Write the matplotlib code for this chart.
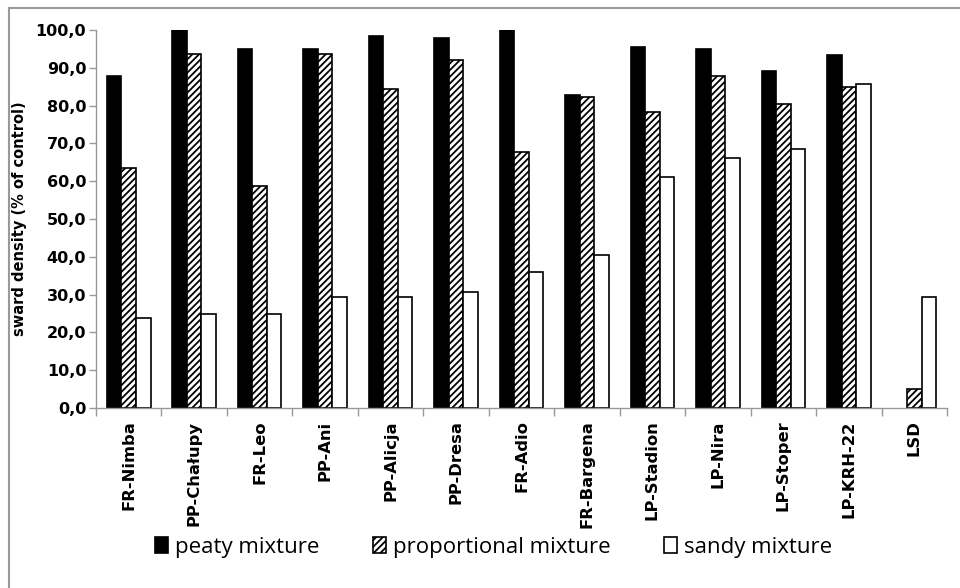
import matplotlib
matplotlib.use("Agg")
import matplotlib.pyplot as plt
import numpy as np
from matplotlib.lines import Line2D

categories = ["FR-Nimba", "PP-Chałupy", "FR-Leo", "PP-Ani", "PP-Alicja", "PP-Dresa",
              "FR-Adio", "FR-Bargena", "LP-Stadion", "LP-Nira", "LP-Stoper", "LP-KRH-22", "LSD"]
peaty = [87.9, 100.0, 95.1, 95.0, 98.4, 98.0, 100.0, 82.7, 95.6, 94.9, 89.1, 93.4, np.nan]
proportional = [63.4, 93.6, 58.8, 93.7, 84.3, 92.0, 67.7, 82.4, 78.2, 87.8, 80.3, 84.9, 5.1]
sandy = [23.8, 24.8, 25.0, 29.5, 29.4, 30.8, 35.9, 40.6, 61.0, 66.1, 68.5, 85.6, 29.5]
series_names = ["peaty mixture", "proportional mixture", "sandy mixture"]
y_ticks = [0, 10, 20, 30, 40, 50, 60, 70, 80, 90, 100]

plt.rcParams['font.family'] = ['DejaVu Sans']
plt.rcParams['hatch.linewidth'] = 1.3
fig = plt.figure(figsize=(9.6, 5.88), dpi=100)
ax = fig.add_axes([0.1, 0.306, 0.8865, 0.643])

x = np.arange(len(categories))
w = 0.222
edge = dict(edgecolor="black", linewidth=1.2)
ax.bar(x - w, peaty, w, color="black", label=series_names[0], **edge)
ax.bar(x, proportional, w, color="white", hatch="/////", label=series_names[1], **edge)
ax.bar(x + w, sandy, w, color="white", label=series_names[2], **edge)

ax.set_xlim(-0.5, len(categories) - 0.5)
ax.set_ylim(0, 100)
ax.set_yticks(y_ticks)
ax.set_yticklabels([f"{v:.1f}".replace(".", ",") for v in y_ticks],
                   fontsize=11.5, fontweight="bold", family="DejaVu Sans")
ax.set_xticks(np.arange(len(categories) + 1) - 0.5)
ax.set_xticklabels([])
ax.set_xticks(x, minor=True)
ax.set_xticklabels(categories, minor=True, rotation=90, fontsize=11.8, fontweight="bold",
                   family="DejaVu Sans")
ax.tick_params(axis="x", which="minor", length=0, pad=9)
ax.tick_params(axis="x", which="major", length=6, color="#999999", width=1)
ax.tick_params(axis="y", length=5, color="#999999", width=1, pad=2)
for s in ["top", "right"]:
    ax.spines[s].set_visible(False)
for s in ["left", "bottom"]:
    ax.spines[s].set_color("#999999")
    ax.spines[s].set_linewidth(1)
ax.set_ylabel("sward density (% of control)", fontsize=10.5, fontweight="bold",
              family="DejaVu Sans")
ax.yaxis.set_label_coords(-69/851, 0.5)

leg = fig.legend(loc="center", bbox_to_anchor=(0.514, 1 - 547/588), ncol=3, frameon=False,
                 prop={"family": "Open Sans", "size": 16}, handlelength=0.6,
                 handleheight=0.75, handletextpad=0.3, columnspacing=2.4, borderpad=0)

fig.add_artist(Line2D([9/960, 9/960], [0, 1 - 8/588], color="#999999", linewidth=1.5,
                      transform=fig.transFigure))
fig.add_artist(Line2D([9/960, 1], [1 - 8/588, 1 - 8/588], color="#999999", linewidth=1.5,
                      transform=fig.transFigure))

fig.savefig("out.png", dpi=100)
